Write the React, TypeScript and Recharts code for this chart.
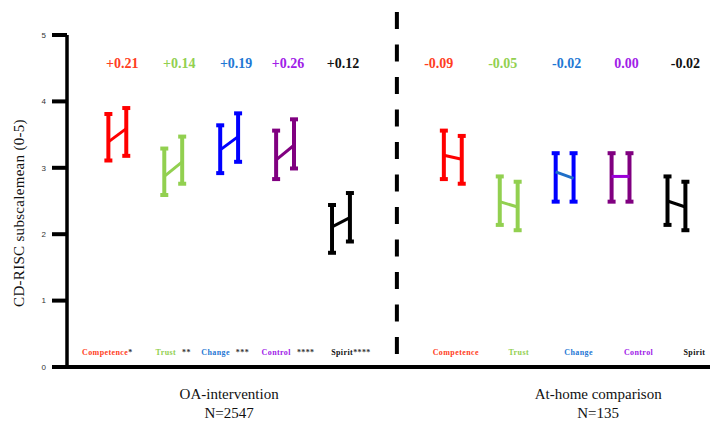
import React from 'react';
import { ComposedChart, Line, ErrorBar, XAxis, YAxis, ReferenceLine } from 'recharts';

// slot 5 is the gap holding the dashed divider
const slots = [0, 1, 2, 3, 4, 6, 7, 8, 9, 10];
const subscales = ['Competence', 'Trust', 'Change', 'Control', 'Spirit', 'Competence', 'Trust', 'Change', 'Control', 'Spirit'];
const stars = ['*', '**', '***', '****', '****', '', '', '', '', ''];
const changes = ['+0.21', '+0.14', '+0.19', '+0.26', '+0.12', '-0.09', '-0.05', '-0.02', '0.00', '-0.02'];

const preMean = [3.39, 2.87, 3.27, 3.12, 2.11, 3.19, 2.49, 2.94, 2.87, 2.5];
const preLow = [3.11, 2.59, 2.92, 2.83, 1.72, 2.83, 2.14, 2.49, 2.49, 2.14];
const preHigh = [3.81, 3.29, 3.64, 3.56, 2.44, 3.56, 2.87, 3.22, 3.22, 2.87];
const postMean = [3.59, 3.09, 3.47, 3.34, 2.25, 3.13, 2.41, 2.84, 2.87, 2.41];
const postLow = [3.18, 2.76, 3.09, 2.99, 1.89, 2.76, 2.06, 2.49, 2.49, 2.06];
const postHigh = [3.9, 3.47, 3.82, 3.73, 2.62, 3.48, 2.79, 3.22, 3.22, 2.79];

const groupTitles = ['OA-intervention', 'At-home comparison'];
const groupNs = ['N=2547', 'N=135'];
const titleSlots = [2, 8.6];

const yTicks = [0, 1, 2, 3, 4, 5];

const barColors = ['#FF0000', '#92D050', '#0000FF', '#800080', '#000000', '#FF0000', '#92D050', '#0000FF', '#800080', '#000000'];
const linkColors = ['#FF0000', '#92D050', '#0000FF', '#800080', '#000000', '#FF0000', '#92D050', '#1F6FC8', '#9B00D8', '#000000'];
const textColors = ['#FF3D22', '#92D050', '#1F78D4', '#A020E8', '#111111', '#FF3D22', '#92D050', '#1F78D4', '#A020E8', '#111111'];
const nameShift = [-10, 0, -4, 3, 10, 3, 10, 14, 18, 18];
const changeShift = [5, 6, 7, 3, 2, -14, -6, 2, 6, 9];

const xDomain = [-0.9, 10.6];
const pairOffset = 0.16;
const serif = '"Liberation Serif", "Times New Roman", serif';

const groups = slots.map((slot, i) => ({
  slot,
  data: [
    { x: slot - pairOffset, y: preMean[i], err: [preMean[i] - preLow[i], preHigh[i] - preMean[i]] },
    { x: slot + pairOffset, y: postMean[i], err: [postMean[i] - postLow[i], postHigh[i] - postMean[i]] },
  ],
}));

// invisible carriers so the label-only axes get data
const slotCarrier = slots.map((x) => ({ x, y: 0 }));
const titleCarrier = titleSlots.map((x) => ({ x, y: 0 }));

const ChangeTick = (props: any) => {
  const i = slots.indexOf(props.payload.value);
  if (i < 0) return <g />;
  return (
    <text x={props.x + changeShift[i]} y={props.y + 35} textAnchor="middle" fontFamily={serif} fontWeight="bold" fontSize={14} fill={textColors[i]}>
      {changes[i]}
    </text>
  );
};

const NameTick = (props: any) => {
  const i = slots.indexOf(props.payload.value);
  if (i < 0) return <g />;
  const gap = i === 0 || i === 4 ? 0 : 6;
  return (
    <text x={props.x + nameShift[i]} y={props.y - 12} textAnchor="middle" fontFamily={serif} fontWeight="bold" fontSize={8} letterSpacing={0.4}>
      <tspan fill={textColors[i]}>{subscales[i]}</tspan>
      {stars[i] && <tspan dx={gap} fill="#333">{stars[i]}</tspan>}
    </text>
  );
};

const TitleTick = (props: any) => {
  const i = titleSlots.indexOf(props.payload.value);
  if (i < 0) return <g />;
  return (
    <g>
      <text x={props.x} y={props.y + 20} textAnchor="middle" fontFamily={serif} fontSize={15} fill="#111">
        {groupTitles[i]}
      </text>
      <text x={props.x} y={props.y + 39} textAnchor="middle" fontFamily={serif} fontSize={15} fill="#111">
        {groupNs[i]}
      </text>
    </g>
  );
};

export default function App() {
  return (
    <div style={{ position: 'absolute', left: 0, top: 0, width: 710, height: 421, background: '#fff' }}>
      <ComposedChart width={710} height={421} margin={{ top: 0, right: 0, bottom: 0, left: 0 }}>
        <XAxis
          xAxisId="top"
          orientation="top"
          type="number"
          dataKey="x"
          domain={xDomain}
          ticks={slots}
          interval={0}
          height={35}
          axisLine={false}
          tickLine={false}
          tickSize={0}
          tick={ChangeTick}
        />
        <XAxis
          xAxisId={0}
          type="number"
          dataKey="x"
          domain={xDomain}
          ticks={slots}
          interval={0}
          height={10}
          tickSize={0}
          tickMargin={0}
          tickLine={false}
          axisLine={{ stroke: '#000', strokeWidth: 4 }}
          tick={NameTick}
        />
        <XAxis
          xAxisId="titles"
          type="number"
          dataKey="x"
          domain={xDomain}
          ticks={titleSlots}
          interval={0}
          height={44}
          axisLine={false}
          tickLine={false}
          tickSize={0}
          tick={TitleTick}
        />
        <YAxis
          type="number"
          domain={[0, 5]}
          ticks={yTicks}
          interval={0}
          width={67}
          tickSize={15}
          tickMargin={6}
          axisLine={{ stroke: '#000', strokeWidth: 3.5 }}
          tickLine={{ stroke: '#000', strokeWidth: 4 }}
          tick={{ fontSize: 8, fill: '#333', fontFamily: '"Liberation Sans", Arial, sans-serif' }}
          label={() => (
            <text transform="translate(24,213) rotate(-90)" textAnchor="middle" fontFamily={serif} fontSize={15} fill="#111" letterSpacing={0.3}>
              CD-RISC subscalemean  (0-5)
            </text>
          )}
        />
        <ReferenceLine
          segment={[{ x: 5, y: 5.345 }, { x: 5, y: 0.12 }]}
          stroke="#000"
          strokeWidth={4}
          strokeDasharray="17 15.5"
          ifOverflow="visible"
        />
        <Line xAxisId="top" data={slotCarrier} dataKey="y" stroke="none" dot={false} activeDot={false} legendType="none" isAnimationActive={false} />
        <Line xAxisId="titles" data={titleCarrier} dataKey="y" stroke="none" dot={false} activeDot={false} legendType="none" isAnimationActive={false} />
        {groups.map((g, i) => (
          <Line
            key={i}
            data={g.data}
            dataKey="y"
            stroke={linkColors[i]}
            strokeWidth={3}
            dot={false}
            activeDot={false}
            isAnimationActive={false}
          >
            <ErrorBar dataKey="err" direction="y" width={4} strokeWidth={4} stroke={barColors[i]} isAnimationActive={false} />
          </Line>
        ))}
      </ComposedChart>
    </div>
  );
}
